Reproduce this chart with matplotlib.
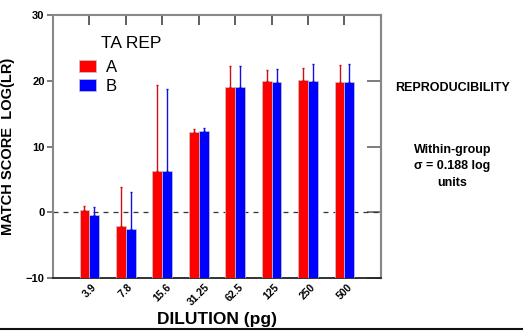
import matplotlib
matplotlib.use("Agg")
from matplotlib import pyplot as plt
from matplotlib.lines import Line2D
import numpy as np

plt.rcParams['font.family'] = ['Liberation Sans', 'DejaVu Sans']

dilutions = ["3.9", "7.8", "15.6", "31.25", "62.5", "125", "250", "500"]
rep_a = [0.3, -2.1, 6.3, 12.2, 19.0, 19.95, 20.15, 19.8]
rep_b = [-0.35, -2.6, 6.3, 12.3, 19.0, 19.8, 19.9, 19.8]
err_a = [0.7, 6.0, 13.1, 0.5, 3.3, 1.65, 1.75, 2.6]
err_b = [1.2, 5.7, 12.5, 0.5, 3.2, 2.0, 2.7, 2.7]
base = -10

fig = plt.figure(figsize=(5.23, 3.31), dpi=100)
ax = fig.add_axes([0.1013, 0.160, 0.627, 0.7946])

x = np.arange(1, len(dilutions) + 1)
w = 0.27
h_a = np.array(rep_a) - base
h_b = np.array(rep_b) - base

ax.bar(x - w / 2, h_a, w, bottom=base, color="#ff0000", edgecolor="#c8c8c8", linewidth=0.5,
       yerr=[np.zeros(len(err_a)), err_a], ecolor="#d01010",
       error_kw=dict(elinewidth=1, capsize=1, capthick=1), label="A", zorder=3)
ax.bar(x + w / 2, h_b, w, bottom=base, color="#0000ff", edgecolor="#c8c8c8", linewidth=0.5,
       yerr=[np.zeros(len(err_b)), err_b], ecolor="#1010e0",
       error_kw=dict(elinewidth=1, capsize=1, capthick=1), label="B", zorder=3)

ax.axhline(0, color="#333333", linestyle=(0, (4, 4)), linewidth=0.9, zorder=1)

ax.set_xlim(0, 9)
ax.set_ylim(-10, 30)
ax.set_yticks([-10, 0, 10, 20, 30])
ax.set_xticks(x)
ax.set_xticklabels(dilutions, rotation=45, ha="center", fontsize=7.5, fontweight="bold")
ax.tick_params(axis="x", bottom=False, top=True, direction="in", length=7,
               color="#444444", width=1.2, pad=3)
ax.tick_params(axis="y", left=True, direction="out", length=4, color="#666666",
               width=1.2, labelsize=8, pad=2)
for lab in ax.get_yticklabels():
    lab.set_fontweight("bold")

right = ax.secondary_yaxis("right")
right.set_yticks([-10, 0, 10, 20, 30])
right.tick_params(direction="in", length=10, color="#666666", width=1.2, labelright=False)
right.spines["right"].set_color("#888888")
right.spines["right"].set_linewidth(1.5)

for side in ["left", "top", "right"]:
    ax.spines[side].set_color("#888888")
    ax.spines[side].set_linewidth(1.5)
ax.spines["bottom"].set_color("#222222")
ax.spines["bottom"].set_linewidth(1.3)

ax.set_ylabel("MATCH SCORE  LOG(LR)", fontsize=10.5, fontweight="bold", labelpad=8)
ax.set_xlabel("DILUTION (pg)", fontsize=12.5, fontweight="bold", labelpad=3)

ax.text(0.145, 0.875, "TA REP", transform=ax.transAxes, fontsize=12.5)
ax.legend(loc="upper left", bbox_to_anchor=(0.08, 0.83), frameon=False,
          fontsize=12, handlelength=1.0, handleheight=0.75, handletextpad=0.6,
          labelspacing=0.25, borderaxespad=0, borderpad=0)

fig.text(0.865, 0.735, "REPRODUCIBILITY", ha="center", va="center",
         fontsize=9, fontweight="bold")
fig.text(0.865, 0.547, "Within-group", ha="center", va="center",
         fontsize=9, fontweight="bold")
fig.text(0.865, 0.497, "σ = 0.188 log", ha="center", va="center",
         fontsize=9, fontweight="bold")
fig.text(0.865, 0.447, "units", ha="center", va="center",
         fontsize=9, fontweight="bold")

fig.add_artist(Line2D([0, 1], [0.006, 0.006], color="#111111", linewidth=1.5,
                      transform=fig.transFigure))

fig.savefig("out.png", dpi=100)
